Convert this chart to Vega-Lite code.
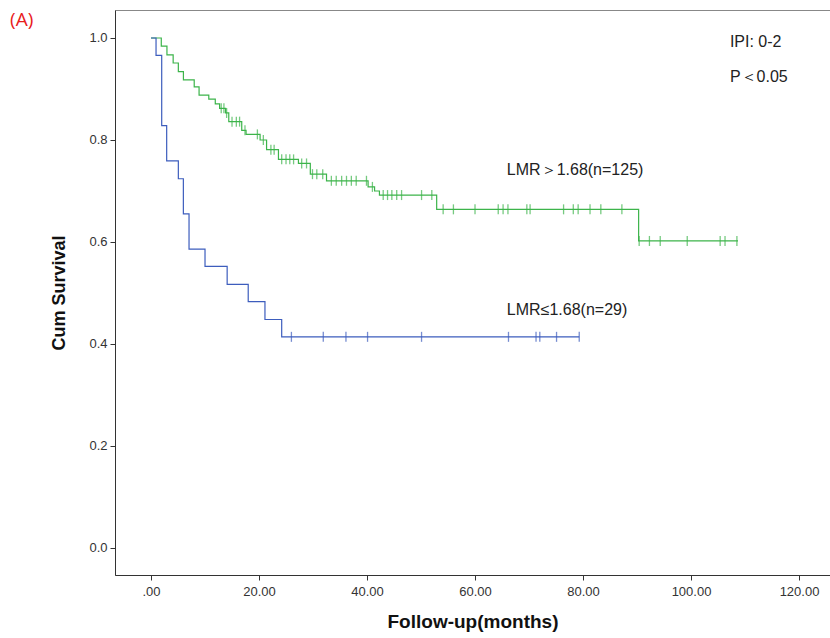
{
  "$schema": "https://vega.github.io/schema/vega-lite/v6.json",
  "width": 715,
  "height": 565,
  "autosize": "none",
  "padding": {"left": 115, "top": 10, "right": 0, "bottom": 63},
  "background": "white",
  "config": {
    "view": {"stroke": "#888", "strokeWidth": 1},
    "font": "Liberation Sans",
    "axis": {"grid": false, "domainColor": "#333", "tickColor": "#333", "labelColor": "#333", "labelFont": "Liberation Sans", "titleFont": "Liberation Sans", "titleColor": "#111"}
  },
  "datasets": {
    "curve": [
      {"group": "LMR>1.68", "t": 0, "s": 1.0},
      {"group": "LMR>1.68", "t": 1.9, "s": 0.984},
      {"group": "LMR>1.68", "t": 2.95, "s": 0.967},
      {"group": "LMR>1.68", "t": 4.1, "s": 0.951},
      {"group": "LMR>1.68", "t": 5.06, "s": 0.934},
      {"group": "LMR>1.68", "t": 6.0, "s": 0.918},
      {"group": "LMR>1.68", "t": 8.0, "s": 0.904},
      {"group": "LMR>1.68", "t": 8.9, "s": 0.888},
      {"group": "LMR>1.68", "t": 10.7, "s": 0.88},
      {"group": "LMR>1.68", "t": 11.9, "s": 0.871},
      {"group": "LMR>1.68", "t": 12.7, "s": 0.862},
      {"group": "LMR>1.68", "t": 13.8, "s": 0.853},
      {"group": "LMR>1.68", "t": 14.4, "s": 0.836},
      {"group": "LMR>1.68", "t": 16.8, "s": 0.819},
      {"group": "LMR>1.68", "t": 17.6, "s": 0.811},
      {"group": "LMR>1.68", "t": 20.2, "s": 0.8},
      {"group": "LMR>1.68", "t": 21.4, "s": 0.781},
      {"group": "LMR>1.68", "t": 23.6, "s": 0.762},
      {"group": "LMR>1.68", "t": 27.3, "s": 0.754},
      {"group": "LMR>1.68", "t": 29.5, "s": 0.733},
      {"group": "LMR>1.68", "t": 32.5, "s": 0.72},
      {"group": "LMR>1.68", "t": 40.2, "s": 0.708},
      {"group": "LMR>1.68", "t": 41.4, "s": 0.7},
      {"group": "LMR>1.68", "t": 42.3, "s": 0.692},
      {"group": "LMR>1.68", "t": 52.9, "s": 0.664},
      {"group": "LMR>1.68", "t": 90.3, "s": 0.602},
      {"group": "LMR>1.68", "t": 108.7, "s": 0.602},
      {"group": "LMR≤1.68", "t": 0, "s": 1.0},
      {"group": "LMR≤1.68", "t": 0.93, "s": 0.966},
      {"group": "LMR≤1.68", "t": 1.98, "s": 0.828},
      {"group": "LMR≤1.68", "t": 2.9, "s": 0.759},
      {"group": "LMR≤1.68", "t": 5.06, "s": 0.724},
      {"group": "LMR≤1.68", "t": 5.99, "s": 0.655},
      {"group": "LMR≤1.68", "t": 7.04, "s": 0.586},
      {"group": "LMR≤1.68", "t": 10.0, "s": 0.552},
      {"group": "LMR≤1.68", "t": 14.1, "s": 0.517},
      {"group": "LMR≤1.68", "t": 18.0, "s": 0.483},
      {"group": "LMR≤1.68", "t": 21.1, "s": 0.448},
      {"group": "LMR≤1.68", "t": 24.2, "s": 0.414},
      {"group": "LMR≤1.68", "t": 79.3, "s": 0.414}
    ],
    "censor": [
      {"group": "LMR>1.68", "t": 13.0, "s": 0.862},
      {"group": "LMR>1.68", "t": 13.5, "s": 0.862},
      {"group": "LMR>1.68", "t": 14.0, "s": 0.853},
      {"group": "LMR>1.68", "t": 15.0, "s": 0.836},
      {"group": "LMR>1.68", "t": 15.8, "s": 0.836},
      {"group": "LMR>1.68", "t": 16.4, "s": 0.836},
      {"group": "LMR>1.68", "t": 17.4, "s": 0.819},
      {"group": "LMR>1.68", "t": 19.7, "s": 0.811},
      {"group": "LMR>1.68", "t": 20.8, "s": 0.8},
      {"group": "LMR>1.68", "t": 22.2, "s": 0.781},
      {"group": "LMR>1.68", "t": 22.8, "s": 0.781},
      {"group": "LMR>1.68", "t": 24.2, "s": 0.762},
      {"group": "LMR>1.68", "t": 25.0, "s": 0.762},
      {"group": "LMR>1.68", "t": 25.7, "s": 0.762},
      {"group": "LMR>1.68", "t": 26.4, "s": 0.762},
      {"group": "LMR>1.68", "t": 27.9, "s": 0.754},
      {"group": "LMR>1.68", "t": 28.8, "s": 0.754},
      {"group": "LMR>1.68", "t": 29.9, "s": 0.733},
      {"group": "LMR>1.68", "t": 30.7, "s": 0.733},
      {"group": "LMR>1.68", "t": 31.8, "s": 0.733},
      {"group": "LMR>1.68", "t": 33.4, "s": 0.72},
      {"group": "LMR>1.68", "t": 34.3, "s": 0.72},
      {"group": "LMR>1.68", "t": 35.3, "s": 0.72},
      {"group": "LMR>1.68", "t": 36.2, "s": 0.72},
      {"group": "LMR>1.68", "t": 37.1, "s": 0.72},
      {"group": "LMR>1.68", "t": 38.0, "s": 0.72},
      {"group": "LMR>1.68", "t": 39.9, "s": 0.72},
      {"group": "LMR>1.68", "t": 41.0, "s": 0.708},
      {"group": "LMR>1.68", "t": 43.0, "s": 0.692},
      {"group": "LMR>1.68", "t": 43.8, "s": 0.692},
      {"group": "LMR>1.68", "t": 44.6, "s": 0.692},
      {"group": "LMR>1.68", "t": 45.5, "s": 0.692},
      {"group": "LMR>1.68", "t": 46.4, "s": 0.692},
      {"group": "LMR>1.68", "t": 50.1, "s": 0.692},
      {"group": "LMR>1.68", "t": 52.0, "s": 0.692},
      {"group": "LMR>1.68", "t": 54.1, "s": 0.664},
      {"group": "LMR>1.68", "t": 56.0, "s": 0.664},
      {"group": "LMR>1.68", "t": 60.0, "s": 0.664},
      {"group": "LMR>1.68", "t": 64.3, "s": 0.664},
      {"group": "LMR>1.68", "t": 65.2, "s": 0.664},
      {"group": "LMR>1.68", "t": 66.1, "s": 0.664},
      {"group": "LMR>1.68", "t": 69.6, "s": 0.664},
      {"group": "LMR>1.68", "t": 70.2, "s": 0.664},
      {"group": "LMR>1.68", "t": 76.4, "s": 0.664},
      {"group": "LMR>1.68", "t": 78.2, "s": 0.664},
      {"group": "LMR>1.68", "t": 79.1, "s": 0.664},
      {"group": "LMR>1.68", "t": 81.3, "s": 0.664},
      {"group": "LMR>1.68", "t": 83.3, "s": 0.664},
      {"group": "LMR>1.68", "t": 87.2, "s": 0.664},
      {"group": "LMR>1.68", "t": 90.4, "s": 0.602},
      {"group": "LMR>1.68", "t": 92.3, "s": 0.602},
      {"group": "LMR>1.68", "t": 94.3, "s": 0.602},
      {"group": "LMR>1.68", "t": 99.3, "s": 0.602},
      {"group": "LMR>1.68", "t": 105.4, "s": 0.602},
      {"group": "LMR>1.68", "t": 106.3, "s": 0.602},
      {"group": "LMR>1.68", "t": 108.5, "s": 0.602},
      {"group": "LMR≤1.68", "t": 26.0, "s": 0.414},
      {"group": "LMR≤1.68", "t": 31.9, "s": 0.414},
      {"group": "LMR≤1.68", "t": 36.1, "s": 0.414},
      {"group": "LMR≤1.68", "t": 40.1, "s": 0.414},
      {"group": "LMR≤1.68", "t": 50.1, "s": 0.414},
      {"group": "LMR≤1.68", "t": 66.2, "s": 0.414},
      {"group": "LMR≤1.68", "t": 71.3, "s": 0.414},
      {"group": "LMR≤1.68", "t": 72.0, "s": 0.414},
      {"group": "LMR≤1.68", "t": 75.1, "s": 0.414},
      {"group": "LMR≤1.68", "t": 79.3, "s": 0.414}
    ],
    "notes": [
      {"label": "LMR＞1.68(n=125)", "t": 65.9, "s": 0.741, "kind": "plain"},
      {"label": "LMR≤1.68(n=29)", "t": 65.9, "s": 0.467, "kind": "plain"},
      {"label": "IPI: 0-2", "t": 107.2, "s": 0.992, "kind": "plain"},
      {"label": "P＜0.05", "t": 107.2, "s": 0.924, "kind": "plain"},
      {"label": "(A)", "t": -26.1, "s": 1.035, "kind": "panel"}
    ]
  },
  "encoding": {
    "x": {
      "field": "t", "type": "quantitative",
      "scale": {"domain": [-6.67, 125.74], "nice": false, "zero": false},
      "axis": {
        "values": [0, 20, 40, 60, 80, 100, 120],
        "labelExpr": "datum.value == 0 ? '.00' : format(datum.value, '.2f')",
        "tickSize": 5, "labelFontSize": 13, "labelPadding": 5,
        "title": "Follow-up(months)", "titleFontSize": 19, "titleFontWeight": "bold", "titlePadding": 14
      }
    },
    "y": {
      "field": "s", "type": "quantitative",
      "scale": {"domain": [-0.053, 1.0549], "nice": false, "zero": false},
      "axis": {
        "values": [0, 0.2, 0.4, 0.6, 0.8, 1.0],
        "format": ".1f",
        "tickSize": 5, "labelFontSize": 13, "labelPadding": 3,
        "title": "Cum Survival", "titleFontSize": 18, "titleFontWeight": "bold", "titlePadding": 20
      }
    }
  },
  "layer": [
    {
      "data": {"name": "curve"},
      "mark": {"type": "line", "interpolate": "step-after", "strokeWidth": 1.2},
      "encoding": {
        "color": {"field": "group", "type": "nominal", "scale": {"domain": ["LMR>1.68", "LMR≤1.68"], "range": ["#3cb44a", "#3d5dbd"]}, "legend": null},
        "detail": {"field": "group"}
      }
    },
    {
      "data": {"name": "censor"},
      "mark": {"type": "tick", "orient": "vertical", "size": 10, "thickness": 1.3},
      "encoding": {
        "color": {"field": "group", "type": "nominal", "scale": {"domain": ["LMR>1.68", "LMR≤1.68"], "range": ["#3cb44a", "#3d5dbd"]}, "legend": null}
      }
    },
    {
      "data": {"name": "notes"},
      "transform": [{"filter": "datum.kind == 'plain'"}],
      "mark": {"type": "text", "align": "left", "baseline": "middle", "fontSize": 16, "font": "Liberation Sans", "color": "#222"},
      "encoding": {"text": {"field": "label"}}
    },
    {
      "data": {"name": "notes"},
      "transform": [{"filter": "datum.kind == 'panel'"}],
      "mark": {"type": "text", "align": "left", "baseline": "middle", "fontSize": 19, "font": "Open Sans", "color": "#e8201c", "clip": false},
      "encoding": {"text": {"field": "label"}}
    }
  ]
}
